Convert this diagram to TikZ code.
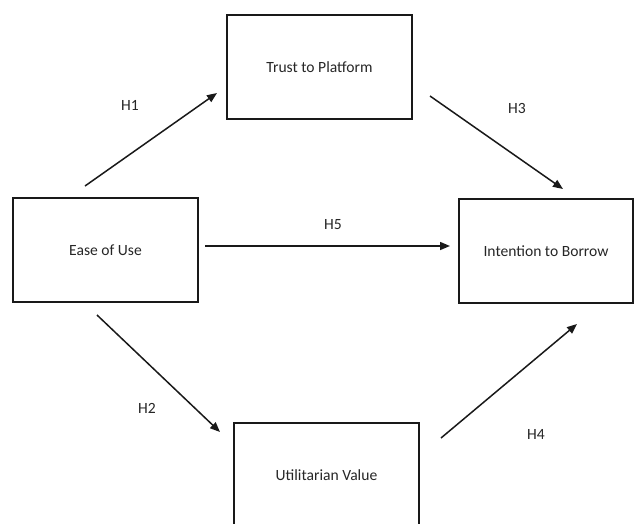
\documentclass[tikz,border=0pt]{standalone}
\usepackage{fontspec}
\setmainfont{Carlito}
\usetikzlibrary{arrows.meta}
\begin{document}
\begin{tikzpicture}[x=1pt,y=-1pt,
  box/.style={draw=black!90, line width=1.6pt, minimum height=104pt, inner sep=0pt,
    font=\fontsize{15.6}{18}\selectfont, text=black!85},
  hlabel/.style={font=\fontsize{15.6}{18}\selectfont, text=black!85, inner sep=0pt},
  conn/.style={line width=1.5pt, draw=black!90, -{Triangle[length=10pt,width=8pt]}}]
\useasboundingbox (0,0) rectangle (634,523);
\clip (0,0) rectangle (634,523);
\node[box, minimum width=185pt] (trust) at (319.5,67) {Trust to Platform};
\node[box, minimum width=185pt] (ease) at (105.5,250) {Ease of Use};
\node[box, minimum width=174pt] (intent) at (546,251) {Intention to Borrow};
\node[box, minimum width=185pt] (util) at (326.5,475) {Utilitarian Value};
\coordinate (h1s) at (85,186);  \coordinate (h1e) at (217,93);
\coordinate (h3s) at (430,96);  \coordinate (h3e) at (563,189);
\coordinate (h5s) at (205,246); \coordinate (h5e) at (450,246);
\coordinate (h2s) at (97,315);  \coordinate (h2e) at (220,432);
\coordinate (h4s) at (441,438); \coordinate (h4e) at (577,324);
\draw[conn] (h1s) -- (h1e);
\draw[conn] (h3s) -- (h3e);
\draw[conn] (h5s) -- (h5e);
\draw[conn] (h2s) -- (h2e);
\draw[conn] (h4s) -- (h4e);
\node[hlabel] (l1) at (130,105) {H1};
\node[hlabel] (l3) at (517,108) {H3};
\node[hlabel] (l5) at (333,225) {H5};
\node[hlabel] (l2) at (147,408) {H2};
\node[hlabel] (l4) at (536,434) {H4};
\end{tikzpicture}
\end{document}
